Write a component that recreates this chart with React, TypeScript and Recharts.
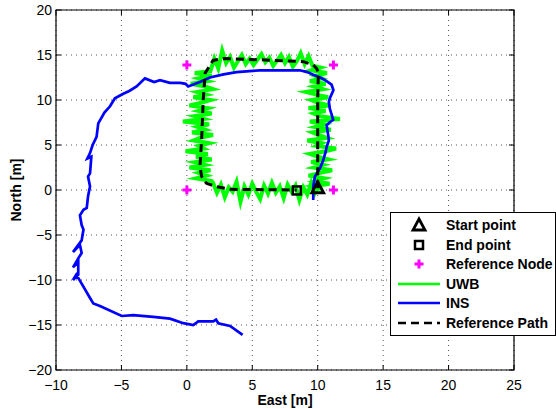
import React from 'react';
import { ComposedChart, Line, Scatter, XAxis, YAxis, CartesianGrid, ReferenceArea } from 'recharts';

const xTicks = [-10, -5, 0, 5, 10, 15, 20, 25];
const yTicks = [-20, -15, -10, -5, 0, 5, 10, 15, 20];

const startPoint = [{ x: 10.0, y: 0.25 }];
const endPoint = [{ x: 8.4, y: -0.05 }];
const referenceNodes = [
  { x: 0, y: 0 },
  { x: 0, y: 13.9 },
  { x: 11.2, y: 13.9 },
  { x: 11.2, y: 0 },
];

const uwbX = [
  10.3, 9.6, 10.9, 9.8, 10.5, 9.3, 10.2, 11.1, 9.7, 10.4, 9.5, 10.8, 10.0, 9.4, 10.6, 11.4, 9.9, 10.3, 9.2, 10.7, 10.1, 9.6, 11.0, 9.8, 10.5, 9.4, 11.7, 10.2, 9.7, 10.6, 9.3, 10.9, 10.0, 9.5, 10.8, 9.9, 9.1, 10.4, 9.7, 10.6, 9.4, 10.3, 9.8, 10.7, 9.5, 10.2,
  9.6, 9.3, 9.0, 8.7, 8.4, 8.1, 7.8, 7.5, 7.2, 6.9, 6.6, 6.3, 6.0, 5.7, 5.4, 5.1, 4.8, 4.5, 4.2, 3.9, 3.6, 3.3, 3.0, 2.7, 2.4, 2.1, 1.8,
  0.6, 1.9, 0.9, 1.6, 0.3, 1.4, 2.0, 0.8, 1.5, 0.5, 1.8, 1.1, 0.2, 1.6, 0.9, 1.9, 0.6, 1.3, -0.3, 1.7, 0.8, 1.4, 0.4, 2.0, 1.0, 0.5, 1.7, 0.9, 1.3, -0.1, 1.6, 0.7, 1.9, 0.6, 1.4, 0.2, 1.8, 0.9, 1.5, 0.7, 1.9,
  2.0, 2.3, 2.6, 2.9, 3.2, 3.5, 3.8, 4.1, 4.4, 4.7, 5.0, 5.3, 5.6, 5.9, 6.2, 6.5, 6.8, 7.1, 7.4, 7.7, 8.0, 8.3, 8.6, 8.9, 9.2, 9.5, 9.8, 10.1,
];
const uwbY = [
  0.1, 0.4, 0.7, 1.0, 1.3, 1.6, 1.9, 2.2, 2.5, 2.8, 3.1, 3.4, 3.7, 4.0, 4.3, 4.6, 4.9, 5.2, 5.5, 5.8, 6.1, 6.4, 6.7, 7.0, 7.3, 7.6, 7.9, 8.2, 8.5, 8.8, 9.1, 9.4, 9.7, 10.0, 10.3, 10.6, 10.9, 11.2, 11.5, 11.8, 12.1, 12.4, 12.7, 13.0, 13.3, 13.6,
  13.8, 14.9, 14.0, 15.2, 14.3, 13.7, 14.8, 14.1, 15.0, 14.4, 13.8, 14.7, 14.2, 15.1, 14.5, 13.9, 14.6, 14.0, 15.0, 14.3, 13.6, 14.8, 14.1, 15.5, 13.5, 14.6, 13.2,
  13.0, 12.7, 12.4, 12.1, 11.8, 11.5, 11.2, 10.9, 10.6, 10.3, 10.0, 9.7, 9.4, 9.1, 8.8, 8.5, 8.2, 7.9, 7.6, 7.3, 7.0, 6.7, 6.4, 6.1, 5.8, 5.5, 5.2, 4.9, 4.6, 4.3, 4.0, 3.7, 3.4, 3.1, 2.8, 2.5, 2.2, 1.9, 1.6, 1.3, 1.0,
  0.8, -0.3, 0.6, -0.8, 0.3, -0.2, 0.9, -1.3, 0.4, -0.5, 0.7, -0.2, -1.0, 0.5, -0.4, 0.8, -0.3, 0.4, -0.9, 0.6, -0.2, 0.5, -1.1, 0.3, -0.5, 0.8, -0.3, 0.5,
];

const insX = [
  9.66, 9.66, 9.79, 10.17, 10.42, 10.6, 10.68, 10.85, 10.8, 10.68, 10.9, 11.18, 11.06, 10.93, 10.85, 10.93, 11.2, 11.06, 10.68, 10.2, 9.66, 9.2, 8.64, 7.0, 5.58, 3.8, 2.8, 1.76, 1.0, 0.1, -0.1, -0.5, -1.3, -2.05, -2.5, -3.2, -3.84, -4.4, -4.86, -5.5, -5.87, -6.3, -6.77, -6.9, -7.2, -7.4, -7.6, -7.3, -7.4, -7.55, -7.4, -7.55, -7.65, -7.9, -8.17, -8.04, -7.9, -8.04, -8.7, -8.17, -8.04, -8.3, -8.7, -8.3, -8.3, -8.7, -8.45, -8.04, -7.4, -7.15, -6.64, -4.98, -4.1, -2.57, -1.29, -0.27, 0.49, 0.87, 2.02, 2.23, 2.4, 3.3, 4.26,
];
const insY = [
  -1.1, 0.4, 1.5, 2.4, 3.3, 4.2, 4.8, 5.5, 6.1, 7.2, 7.5, 7.8, 8.4, 9.0, 9.8, 10.2, 11.1, 11.7, 12.1, 12.5, 12.8, 13.1, 13.3, 13.3, 13.3, 13.1, 12.85, 12.5, 12.0, 11.5, 11.8, 11.9, 11.9, 12.2, 12.0, 12.4, 11.5, 11.0, 10.7, 10.2, 9.3, 8.6, 7.4, 5.9, 5.0, 4.1, 3.5, 3.7, 1.85, 1.5, 0.4, -0.7, -2.0, -2.2, -2.8, -3.9, -4.4, -5.6, -6.9, -6.1, -7.0, -7.6, -8.6, -8.0, -9.4, -10.0, -9.4, -10.4, -12.0, -12.6, -12.9, -14.0, -13.9, -14.1, -14.3, -14.8, -15.0, -14.6, -14.6, -14.4, -14.8, -15.1, -16.1,
];

const refPathX = [10.0, 10.0, 10.05, 9.92, 9.66, 8.9, 6.0, 2.78, 2.0, 1.4, 1.25, 1.13, 1.0, 1.13, 1.5, 2.27, 3.3, 8.4];
const refPathY = [0.2, 10.0, 13.1, 13.5, 13.9, 14.26, 14.45, 14.6, 14.4, 13.0, 10.0, 5.6, 2.6, 1.5, 0.74, 0.37, 0.07, 0.0];

const uwbData = uwbX.map((x, i) => ({ x, y: uwbY[i] }));
const insData = insX.map((x, i) => ({ x, y: insY[i] }));
const refPathData = refPathX.map((x, i) => ({ x, y: refPathY[i] }));

const FONT = '"Liberation Sans", Arial, Helvetica, sans-serif';
const PLOT_TOP = 10;
const PLOT_BOTTOM = 370;
const PLOT_LEFT = 56;
const PLOT_RIGHT = 514;

const fmt = (v: number) => String(v).replace('-', '\u2212');

const XTick = (props: any) => {
  const { x, payload } = props;
  return (
    <g>
      <line x1={x} x2={x} y1={PLOT_BOTTOM} y2={PLOT_BOTTOM - 5} stroke="#000" />
      <line x1={x} x2={x} y1={PLOT_TOP} y2={PLOT_TOP + 5} stroke="#000" />
      <text x={x} y={PLOT_BOTTOM + 15} textAnchor="middle" dy="0.36em" fontSize={14} fontFamily={FONT} fill="#000">
        {fmt(payload.value)}
      </text>
    </g>
  );
};

const YTick = (props: any) => {
  const { y, payload } = props;
  return (
    <g>
      <line x1={PLOT_LEFT} x2={PLOT_LEFT + 5} y1={y} y2={y} stroke="#000" />
      <line x1={PLOT_RIGHT} x2={PLOT_RIGHT - 5} y1={y} y2={y} stroke="#000" />
      <text x={PLOT_LEFT - 4} y={y} textAnchor="end" dy="0.36em" fontSize={14} fontFamily={FONT} fill="#000">
        {fmt(payload.value)}
      </text>
    </g>
  );
};

const PlusShape = (props: any) => {
  const { cx, cy } = props;
  return (
    <path d={`M${cx - 4.5},${cy}H${cx + 4.5}M${cx},${cy - 4.5}V${cy + 4.5}`} stroke="#ff00ff" strokeWidth={3} fill="none" />
  );
};

const TriangleShape = (props: any) => {
  const { cx, cy } = props;
  return (
    <path d={`M${cx},${cy - 6}L${cx + 6},${cy + 5}L${cx - 6},${cy + 5}Z`} stroke="#000" strokeWidth={2.8} fill="none" strokeLinejoin="miter" />
  );
};

const SquareShape = (props: any) => {
  const { cx, cy } = props;
  return <rect x={cx - 4} y={cy - 4} width={8} height={8} stroke="#000" strokeWidth={2.5} fill="none" />;
};

const legendItems = [
  { label: 'Start point', kind: 'tri' },
  { label: 'End point', kind: 'sq' },
  { label: 'Reference Node', kind: 'plus' },
  { label: 'UWB', kind: 'green' },
  { label: 'INS', kind: 'blue' },
  { label: 'Reference Path', kind: 'dash' },
];

const LegendIcon = ({ kind }: { kind: string }) => {
  return (
    <svg width={46} height={20} style={{ display: 'block' }}>
      {kind === 'tri' && <path d="M23,4L29,15L17,15Z" stroke="#000" strokeWidth={2.8} fill="none" />}
      {kind === 'sq' && <rect x={19} y={6} width={8} height={8} stroke="#000" strokeWidth={2.5} fill="none" />}
      {kind === 'plus' && <path d="M18.5,10H27.5M23,5.5V14.5" stroke="#ff00ff" strokeWidth={3} fill="none" />}
      {kind === 'green' && <line x1={2} x2={44} y1={10} y2={10} stroke="#00ff00" strokeWidth={2.5} />}
      {kind === 'blue' && <line x1={2} x2={44} y1={10} y2={10} stroke="#0000ff" strokeWidth={2.5} />}
      {kind === 'dash' && <line x1={2} x2={44} y1={10} y2={10} stroke="#000" strokeWidth={2.5} strokeDasharray="8 5" />}
    </svg>
  );
};

export default function App() {
  return (
    <div style={{ position: 'absolute', left: 0, top: 0, width: 556, height: 409, background: '#fff', fontFamily: FONT }}>
      <ComposedChart width={556} height={409} margin={{ top: 10, right: 42, bottom: 0, left: 0 }}>
        <CartesianGrid stroke="#555" strokeDasharray="1 4" />
        <XAxis
          type="number"
          dataKey="x"
          domain={[-10, 25]}
          ticks={xTicks}
          height={39}
          axisLine={false}
          tickLine={false}
          tickSize={0}
          tickMargin={0}
          tick={<XTick />}
          allowDataOverflow
        />
        <YAxis
          type="number"
          dataKey="y"
          domain={[-20, 20]}
          ticks={yTicks}
          width={56}
          axisLine={false}
          tickLine={false}
          tickSize={0}
          tickMargin={0}
          tick={<YTick />}
          allowDataOverflow
        />
        <Line data={uwbData} dataKey="y" type="linear" stroke="#00ff00" strokeWidth={4} dot={false} isAnimationActive={false} strokeLinejoin="miter" strokeMiterlimit={5} />
        <Line data={insData} dataKey="y" type="linear" stroke="#0000ff" strokeWidth={2.7} dot={false} isAnimationActive={false} />
        <Line data={refPathData} dataKey="y" type="linear" stroke="#000" strokeWidth={3} strokeDasharray="8 5" dot={false} isAnimationActive={false} />
        <Scatter data={referenceNodes} shape={<PlusShape />} isAnimationActive={false} />
        <Scatter data={endPoint} shape={<SquareShape />} isAnimationActive={false} />
        <Scatter data={startPoint} shape={<TriangleShape />} isAnimationActive={false} />
        <ReferenceArea x1={-10} x2={25} y1={-20} y2={20} fill="none" stroke="#000" strokeWidth={1.2} ifOverflow="visible" />
      </ComposedChart>
      <div style={{ position: 'absolute', left: 8, top: 190, transform: 'translate(-50%, -50%) rotate(-90deg)', transformOrigin: 'center', fontWeight: 'bold', fontSize: 14, whiteSpace: 'nowrap', marginLeft: 8 }}>
        North [m]
      </div>
      <div style={{ position: 'absolute', left: 285, top: 400, transform: 'translate(-50%, -50%)', fontWeight: 'bold', fontSize: 14, whiteSpace: 'nowrap' }}>
        East [m]
      </div>
      <div style={{ position: 'absolute', left: 390, top: 212, width: 164, height: 122, border: '1px solid #000', background: '#fff', boxSizing: 'content-box' }}>
        {legendItems.map((it, i) => (
          <div key={it.label} style={{ position: 'absolute', left: 0, top: 2 + i * 19.6, height: 20, display: 'flex', alignItems: 'center' }}>
            <div style={{ marginLeft: 5 }}>
              <LegendIcon kind={it.kind} />
            </div>
            <div style={{ marginLeft: 4, fontWeight: 'bold', fontSize: 14, whiteSpace: 'nowrap' }}>{it.label}</div>
          </div>
        ))}
      </div>
    </div>
  );
}
